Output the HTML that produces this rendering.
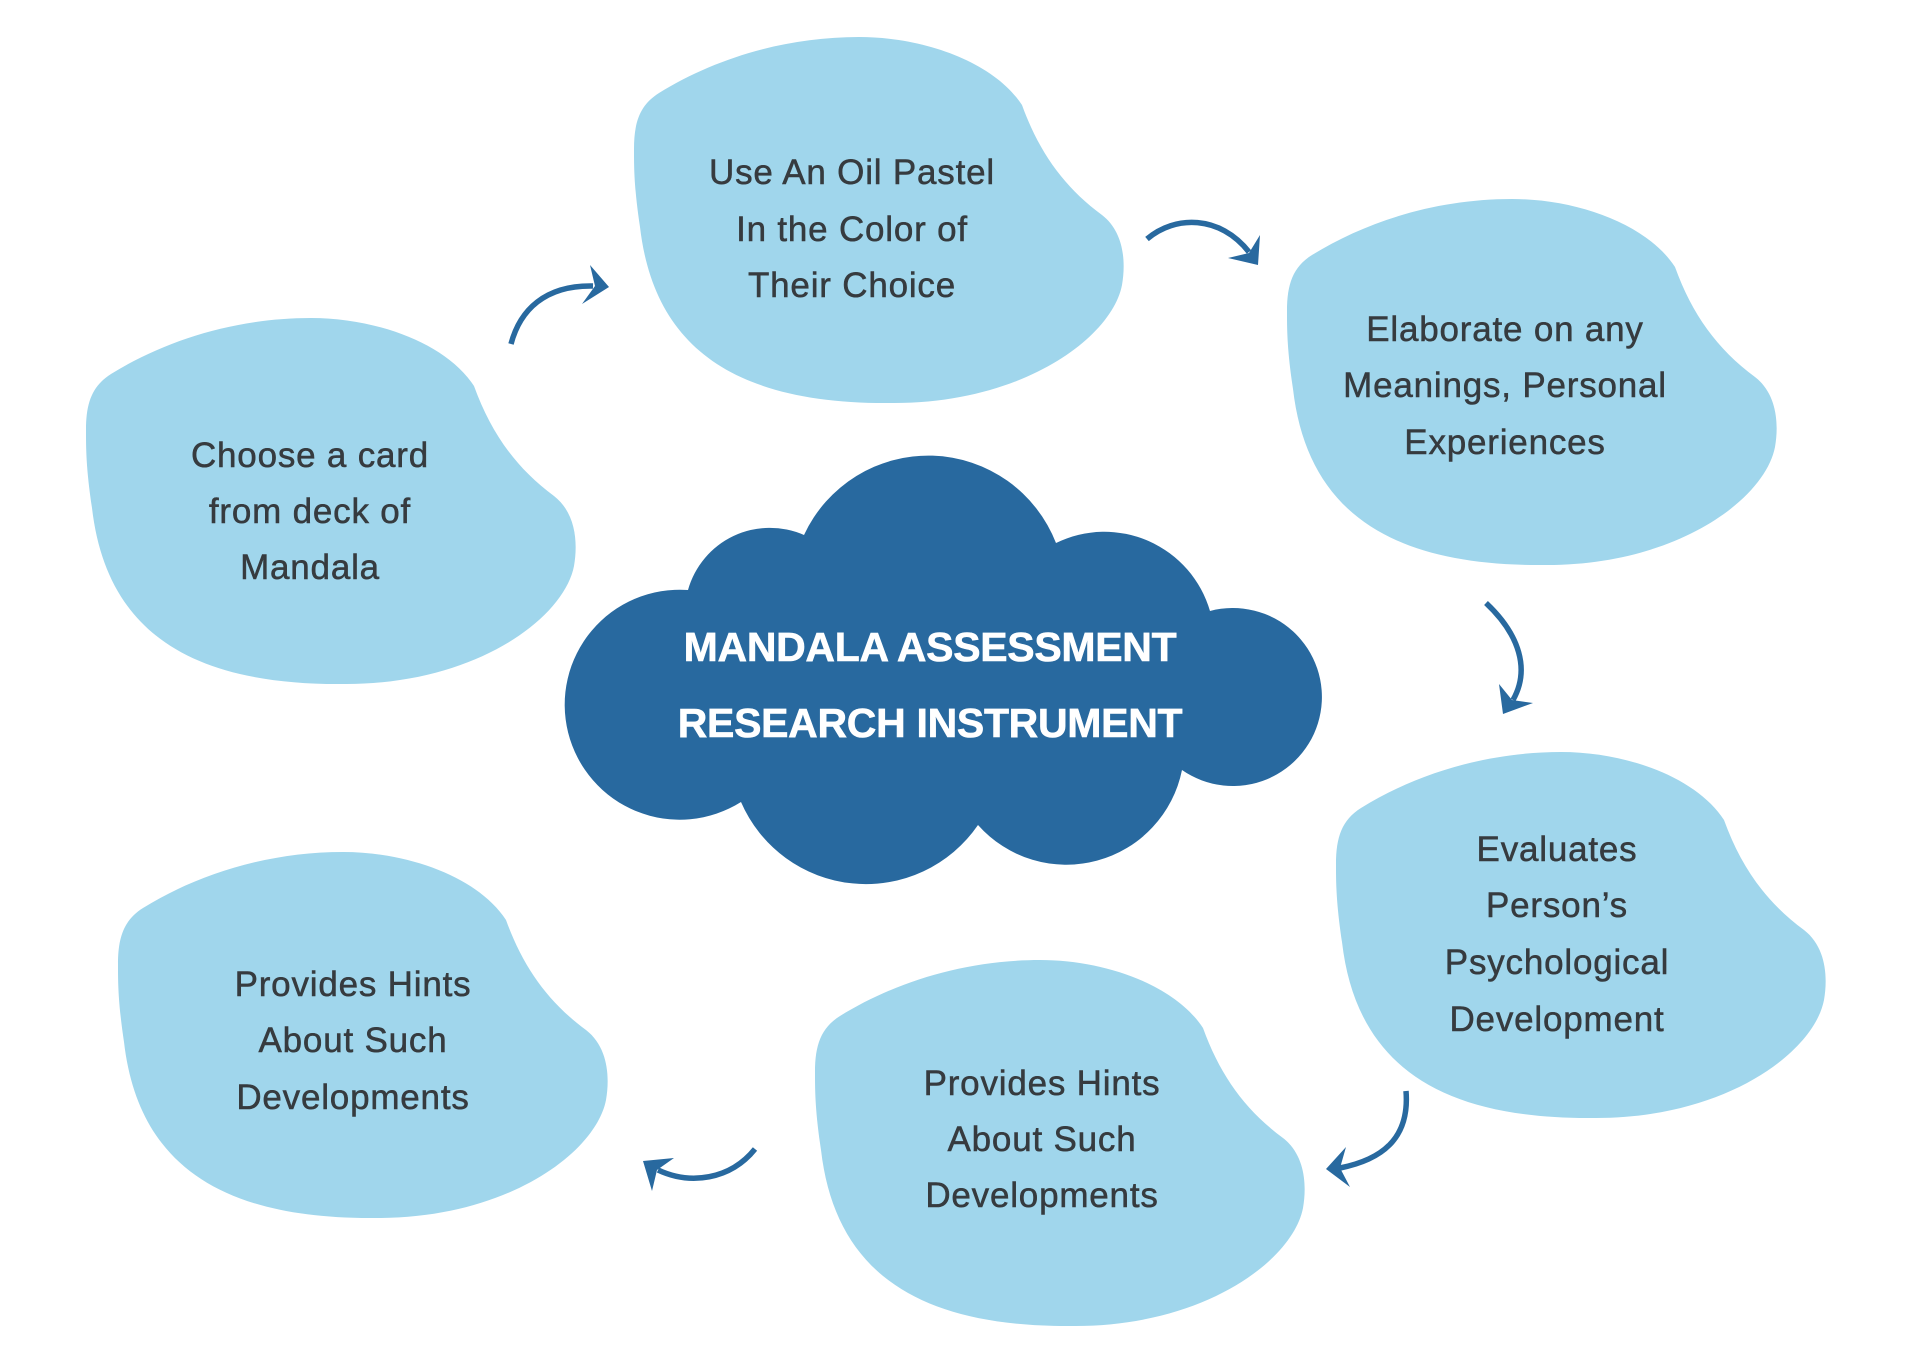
<!DOCTYPE html>
<html>
<head>
<meta charset="utf-8">
<style>
  html,body{margin:0;padding:0;background:#ffffff;}
  body{width:1920px;height:1363px;overflow:hidden;}
  svg{display:block;}
  .t{font-family:"Liberation Sans",sans-serif;font-size:35px;fill:#363b3f;stroke:#363b3f;stroke-width:0.5px;letter-spacing:0.8px;text-anchor:middle;}
  .c{font-family:"Liberation Sans",sans-serif;font-size:41px;font-weight:bold;fill:#ffffff;stroke:#ffffff;stroke-width:0.6px;letter-spacing:-0.3px;text-anchor:middle;}
</style>
</head>
<body>
<svg width="1920" height="1363" viewBox="0 0 1920 1363" xmlns="http://www.w3.org/2000/svg">
  <rect x="0" y="0" width="1920" height="1363" fill="#ffffff"/>

  <!-- Blobs -->
  <g fill="#a0d6ec">
    <g transform="translate(86,318)">
      <path d="M 0,112 C 0,85 6,68 25,56 C 80,22 150,0 225,0 C 290,0 360,25 388,68 C 405,115 430,150 468,178 C 490,195 492,225 488,248 C 478,300 390,366 260,366 C 100,368 20,310 6,190 C 0,150 0,130 0,112 Z"/>
    </g>
    <g transform="translate(634,37)">
      <path d="M 0,112 C 0,85 6,68 25,56 C 80,22 150,0 225,0 C 290,0 360,25 388,68 C 405,115 430,150 468,178 C 490,195 492,225 488,248 C 478,300 390,366 260,366 C 100,368 20,310 6,190 C 0,150 0,130 0,112 Z"/>
    </g>
    <g transform="translate(1287,199)">
      <path d="M 0,112 C 0,85 6,68 25,56 C 80,22 150,0 225,0 C 290,0 360,25 388,68 C 405,115 430,150 468,178 C 490,195 492,225 488,248 C 478,300 390,366 260,366 C 100,368 20,310 6,190 C 0,150 0,130 0,112 Z"/>
    </g>
    <g transform="translate(1336,752)">
      <path d="M 0,112 C 0,85 6,68 25,56 C 80,22 150,0 225,0 C 290,0 360,25 388,68 C 405,115 430,150 468,178 C 490,195 492,225 488,248 C 478,300 390,366 260,366 C 100,368 20,310 6,190 C 0,150 0,130 0,112 Z"/>
    </g>
    <g transform="translate(815,960)">
      <path d="M 0,112 C 0,85 6,68 25,56 C 80,22 150,0 225,0 C 290,0 360,25 388,68 C 405,115 430,150 468,178 C 490,195 492,225 488,248 C 478,300 390,366 260,366 C 100,368 20,310 6,190 C 0,150 0,130 0,112 Z"/>
    </g>
    <g transform="translate(118,852)">
      <path d="M 0,112 C 0,85 6,68 25,56 C 80,22 150,0 225,0 C 290,0 360,25 388,68 C 405,115 430,150 468,178 C 490,195 492,225 488,248 C 478,300 390,366 260,366 C 100,368 20,310 6,190 C 0,150 0,130 0,112 Z"/>
    </g>
  </g>

  <!-- Cloud -->
  <path fill="#28699f" d="M 688,590 A 85 85 0 0 1 804,535 A 137 137 0 0 1 1056,543 A 110 110 0 0 1 1210,611 A 89 89 0 1 1 1182,770 A 118 118 0 0 1 978,825 A 136 136 0 0 1 741,802 A 115 115 0 1 1 688,590 Z"/>
  <text class="c" x="930" y="661">MANDALA ASSESSMENT</text>
  <text class="c" x="930" y="737">RESEARCH INSTRUMENT</text>

  <!-- Blob texts -->
  <text class="t" x="310" y="467">Choose a card</text>
  <text class="t" x="310" y="523">from deck of</text>
  <text class="t" x="310" y="579">Mandala</text>

  <text class="t" x="852" y="184">Use An Oil Pastel</text>
  <text class="t" x="852" y="241">In the Color of</text>
  <text class="t" x="852" y="297">Their Choice</text>

  <text class="t" x="1505" y="341">Elaborate on any</text>
  <text class="t" x="1505" y="397">Meanings, Personal</text>
  <text class="t" x="1505" y="454">Experiences</text>

  <text class="t" x="1557" y="861">Evaluates</text>
  <text class="t" x="1557" y="917">Person’s</text>
  <text class="t" x="1557" y="974">Psychological</text>
  <text class="t" x="1557" y="1031">Development</text>

  <text class="t" x="1042" y="1095">Provides Hints</text>
  <text class="t" x="1042" y="1151">About Such</text>
  <text class="t" x="1042" y="1207">Developments</text>

  <text class="t" x="353" y="996">Provides Hints</text>
  <text class="t" x="353" y="1052">About Such</text>
  <text class="t" x="353" y="1109">Developments</text>

  <!-- Arrows -->
  <g fill="none" stroke="#28699f" stroke-width="5.5">
    <path d="M 511,344 C 520,310 545,285 593,286"/>
    <path d="M 1147,239 C 1175,215 1220,215 1249,252"/>
    <path d="M 1486,603 C 1520,635 1530,670 1513,700"/>
    <path d="M 1406,1091 C 1410,1140 1380,1160 1340,1168"/>
    <path d="M 755,1149 C 730,1180 690,1185 658,1170"/>
  </g>
  <g fill="#28699f">
    <polygon points="609,287 590,265 595,286 582,304"/>
    <polygon points="1258,265 1260,235 1249,253 1228,258"/>
    <polygon points="1503,714 1499,684 1512,700 1533,703"/>
    <polygon points="1326,1169 1346,1147 1340,1168 1350,1187"/>
    <polygon points="643,1161 674,1158 657,1170 652,1191"/>
  </g>
</svg>
</body>
</html>
